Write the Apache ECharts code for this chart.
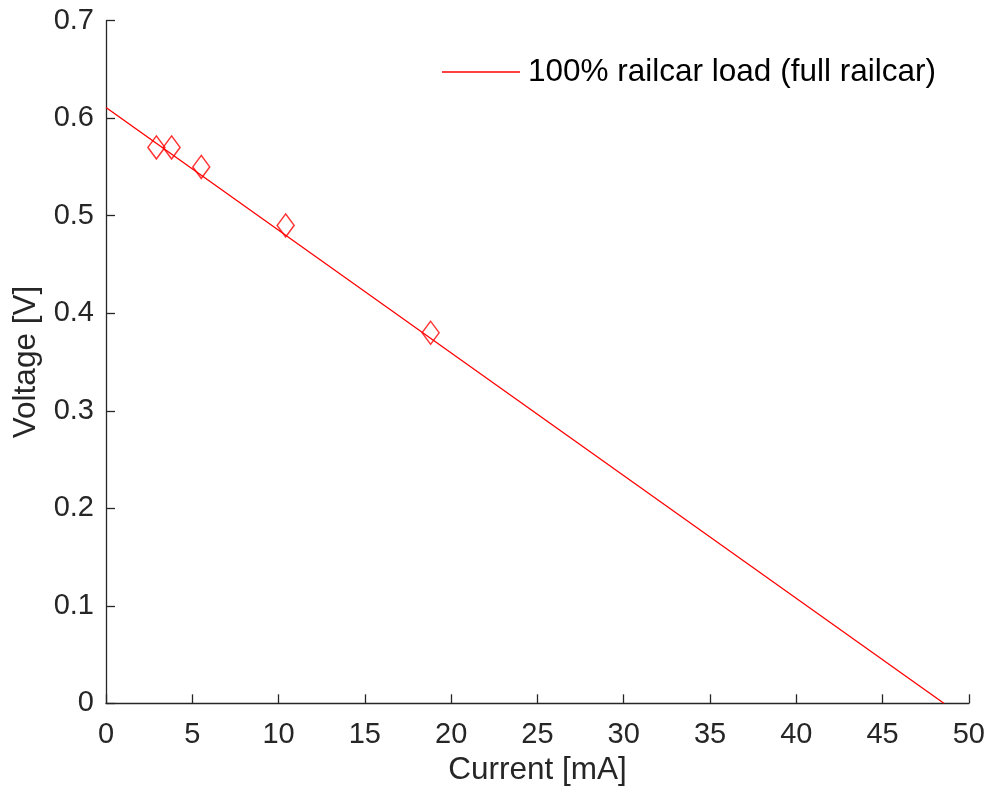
<!DOCTYPE html>
<html>
<head>
<meta charset="utf-8">
<title>Voltage vs current</title>
<script src="https://cdn.jsdelivr.net/npm/echarts@6/dist/echarts.min.js"></script>
<style>
    html, body { margin: 0; padding: 0; background: #fff; }
    #chart { width: 988px; height: 795px; }
</style>
</head>
<body>
<div id="chart"></div>
<script>
// measured points
var current = [2.92, 3.8, 5.52, 10.41, 18.81];
var voltage = [0.57, 0.57, 0.55, 0.49, 0.38];

// linear fit, end points
var fitCurrent = [0, 48.55];
var fitVoltage = [0.611, 0];

var xTicks = [0, 5, 10, 15, 20, 25, 30, 35, 40, 45, 50];
var yTicks = [0, 0.1, 0.2, 0.3, 0.4, 0.5, 0.6, 0.7];

var seriesName = '100% railcar load (full railcar)';

var axisColor = '#262626';
var font = 'Liberation Sans, Arial, sans-serif';

function pairs(xs, ys) {
    var out = [];
    for (var i = 0; i < xs.length; i++) {
        out.push([xs[i], ys[i]]);
    }
    return out;
}

var chart = echarts.init(document.getElementById('chart'));

var option = {
    animation: false,
    backgroundColor: '#fff',
    textStyle: { fontFamily: font },
    grid: {
        left: 106,
        right: 14.5,
        top: 20.7,
        bottom: 91.7,
        containLabel: false
    },
    legend: {
        data: [seriesName],
        left: 437,
        top: 51,
        icon: 'rect',
        itemWidth: 78,
        itemHeight: 1.4,
        itemGap: 10,
        itemStyle: { color: '#ff0000' },
        textStyle: { fontFamily: font, fontSize: 31.5, color: '#000', padding: [0, 0, 0, 3] }
    },
    xAxis: {
        type: 'value',
        min: xTicks[0],
        max: xTicks[xTicks.length - 1],
        interval: 5,
        name: 'Current [mA]',
        nameLocation: 'middle',
        nameGap: 50,
        nameTextStyle: { fontFamily: font, fontSize: 31.5, color: axisColor },
        axisLine: { lineStyle: { color: axisColor, width: 1.3 } },
        axisTick: { inside: true, length: 9, lineStyle: { color: axisColor, width: 1.3 } },
        axisLabel: { margin: 17, fontFamily: font, fontSize: 29, color: axisColor },
        splitLine: { show: false }
    },
    yAxis: {
        type: 'value',
        min: yTicks[0],
        max: yTicks[yTicks.length - 1],
        interval: 0.1,
        name: 'Voltage [V]',
        nameLocation: 'middle',
        nameGap: 63,
        nameTextStyle: { fontFamily: font, fontSize: 31.5, color: axisColor },
        axisLine: { show: true, lineStyle: { color: axisColor, width: 1.3 } },
        axisTick: { show: true, inside: true, length: 9, lineStyle: { color: axisColor, width: 1.3 } },
        axisLabel: {
            margin: 12,
            fontFamily: font,
            fontSize: 29,
            color: axisColor,
            formatter: function (v) { return String(Math.round(v * 10) / 10); }
        },
        splitLine: { show: false }
    },
    series: [
        {
            name: seriesName,
            type: 'line',
            data: pairs(fitCurrent, fitVoltage),
            symbol: 'none',
            lineStyle: { color: '#ff0000', width: 1.3 },
            itemStyle: { color: '#ff0000' }
        },
        {
            name: 'data',
            type: 'scatter',
            data: pairs(current, voltage),
            symbol: 'diamond',
            symbolSize: [17, 23],
            itemStyle: { color: 'rgba(255,255,255,0)', borderColor: '#ff0000', borderWidth: 1.5 }
        }
    ]
};

chart.setOption(option);
</script>
</body>
</html>
